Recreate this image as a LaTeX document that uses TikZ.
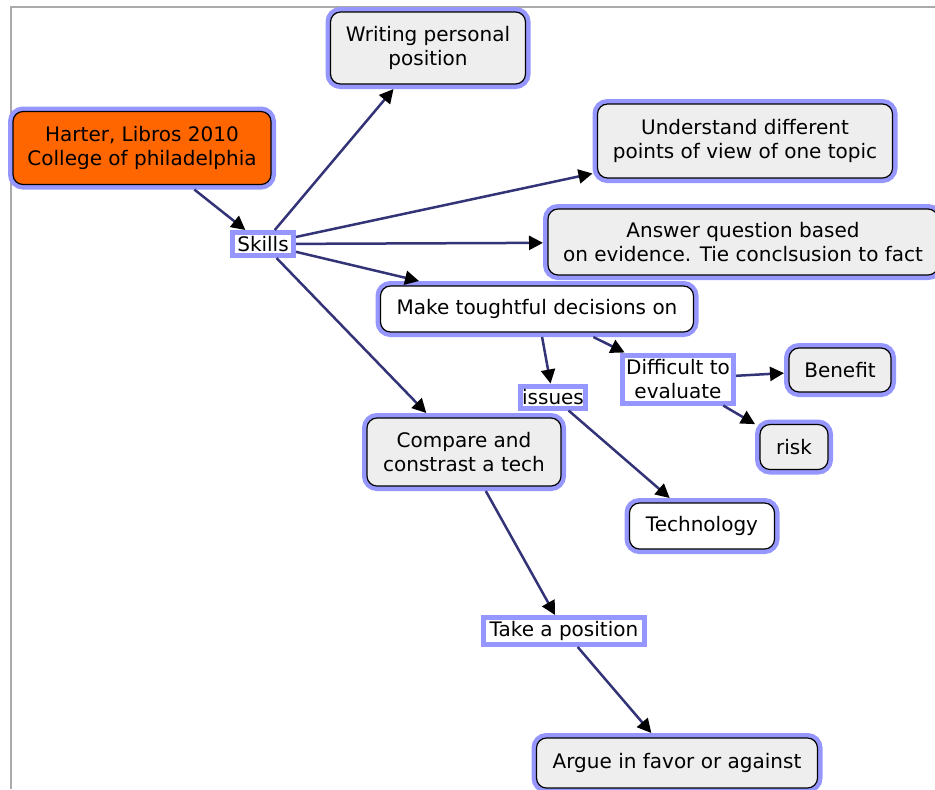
\documentclass[tikz,border=0pt]{standalone}
\usepackage{fontspec}
\setmainfont{DejaVu Sans}
\usetikzlibrary{arrows.meta}
\definecolor{halo}{RGB}{150,150,255}
\definecolor{linkcol}{RGB}{51,51,119}
\definecolor{boxgray}{RGB}{238,238,238}
\definecolor{headorange}{RGB}{255,102,0}
\definecolor{framegray}{RGB}{170,170,170}
\begin{document}
\begin{tikzpicture}[x=0.5pt,y=-0.5pt,
    concept/.style={draw=black,line width=0.6pt,rounded corners=5pt,fill=boxgray,align=center,
      font=\fontsize{10}{12}\selectfont,inner sep=0pt,outer sep=2.5pt,
      preaction={draw=halo,line width=5pt}},
    phrase/.style={draw=halo,line width=2.5pt,fill=white,align=center,
      font=\fontsize{10}{12}\selectfont,inner sep=0pt},
    link/.style={draw=linkcol,line width=1.25pt,-{Triangle[length=7pt,width=7pt,color=black]}}]
                      \useasboundingbox (0,0) rectangle (935,789);
                      \draw[framegray,line width=0.75pt] (11,789) -- (11,7) -- (935,7);
                      % concepts and linking phrases
                      \node[concept,fill=headorange,minimum width=129pt,minimum height=36.5pt] (harter) at (142,148) {Harter, Libros 2010\\College of philadelphia};
                      \node[phrase,minimum width=30.5pt,minimum height=11.5pt] (skills) at (263,244) {Skills};
                      \node[concept,minimum width=97.5pt,minimum height=36pt] (writing) at (428,48) {Writing personal\\position};
                      \node[concept,minimum width=147.5pt,minimum height=37pt] (points) at (745,141) {Understand different\\points of view of one topic};
                      \node[concept,minimum width=195pt,minimum height=33pt] (evidence) at (743,242) {Answer question based\\on evidence. Tie conclsusion to fact};
                      \node[concept,fill=white,minimum width=156.5pt,minimum height=23pt] (decisions) at (537,309) {Make toughtful decisions on};
                      \node[phrase,minimum width=55.5pt,minimum height=24pt] (evaluate) at (678,379) {Difficult to\\evaluate};
                      \node[concept,minimum width=51pt,minimum height=22pt] (benefit) at (840,370) {Benefit};
                      \node[concept,minimum width=34pt,minimum height=22.5pt] (risk) at (794,447) {risk};
                      \node[phrase,minimum width=32.5pt,minimum height=11pt] (issues) at (553,397) {issues};
                      \node[concept,minimum width=97pt,minimum height=34pt] (compare) at (464,452) {Compare and\\constrast a tech};
                      \node[concept,fill=white,minimum width=72.5pt,minimum height=23pt] (technology) at (702,526) {Technology};
                      \node[phrase,minimum width=80.5pt,minimum height=13.5pt] (position) at (564,631) {Take a position};
                      \node[concept,minimum width=140.5pt,minimum height=25pt] (argue) at (677,763) {Argue in favor or against};
                      % links
                      \draw[link] (harter) -- (skills);
                      \draw[link] (skills) -- (writing);
                      \draw[link] (skills) -- (points);
                      \draw[link] (skills) -- (evidence);
                      \draw[link] (skills) -- (decisions);
                      \draw[link] (skills) -- (compare);
                      \draw[link] (decisions) -- (issues);
                      \draw[link] (decisions) -- (evaluate);
                      \draw[link] (evaluate) -- (benefit);
                      \draw[link] (evaluate) -- (risk);
                      \draw[link] (issues) -- (technology);
                      \draw[link] (compare) -- (position);
                      \draw[link] (position) -- (argue);
                  \end{tikzpicture}
\end{document}
